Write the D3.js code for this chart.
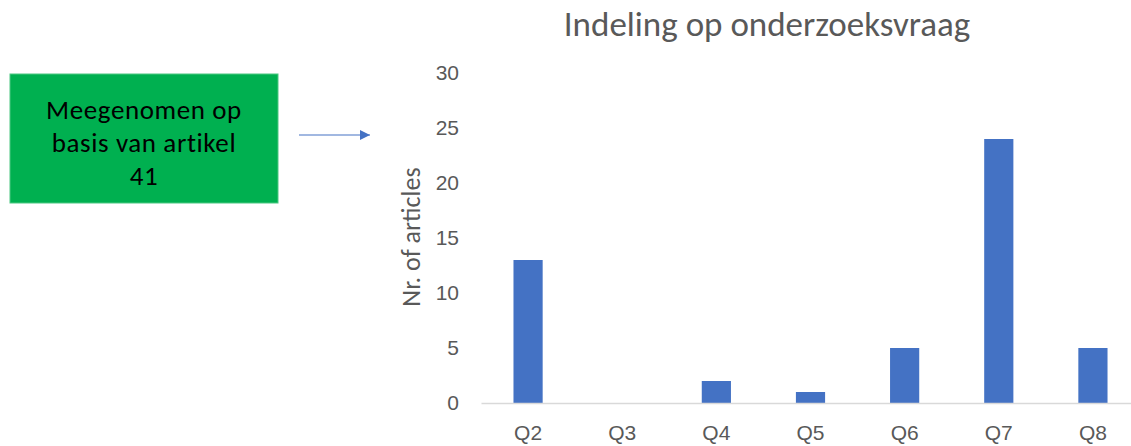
<!DOCTYPE html>
<html>
<head>
<meta charset="utf-8">
<script src="https://cdn.jsdelivr.net/npm/d3@7"></script>
<style>
  html, body { margin: 0; padding: 0; background: #fff; }
  svg { display: block; font-family: Carlito, "Liberation Sans Narrow", "Open Sans", sans-serif; }
</style>
</head>
<body>
<svg id="chart" width="1131" height="446"></svg>
<script>
// Article counts per research question
const categories = ["Q2", "Q3", "Q4", "Q5", "Q6", "Q7", "Q8"];
const articleCounts = [13, 0, 2, 1, 5, 24, 5];
const yTicks = [0, 5, 10, 15, 20, 25, 30];
const titleText = "Indeling op onderzoeksvraag";
const yLabelText = "Nr. of articles";
const noteLines = ["Meegenomen op", "basis van artikel", "41"];

const svg = d3.select("#chart");
const plot = { left: 481, right: 1140, top: 73, bottom: 403 };

const x = d3.scaleBand()
  .domain(categories)
  .range([plot.left, plot.right])
  .paddingInner(0.69)
  .paddingOuter(0.345);

const y = d3.scaleLinear()
  .domain([0, 30])
  .range([plot.bottom, plot.top]);

// Title
svg.append("text")
  .attr("x", 767).attr("y", 36)
  .attr("text-anchor", "middle")
  .attr("fill", "#595959")
  .attr("font-size", 35)
  .text(titleText);

// Y axis tick labels (no line)
const yAxis = d3.axisLeft(y).tickValues(yTicks).tickSize(0).tickPadding(0);
const yg = svg.append("g").attr("transform", `translate(459,0)`).call(yAxis);
yg.select(".domain").remove();
yg.selectAll("text")
  .attr("fill", "#595959")
  .attr("font-size", 21)
  .attr("font-family", "inherit");

// Y axis title
svg.append("text")
  .attr("transform", `translate(420,237) rotate(-90)`)
  .attr("text-anchor", "middle")
  .attr("fill", "#595959")
  .attr("font-size", 26)
  .text(yLabelText);

// Bars
svg.append("g").selectAll("rect")
  .data(categories.map((c, i) => ({ c, v: articleCounts[i] })))
  .join("rect")
  .attr("x", d => x(d.c))
  .attr("width", x.bandwidth())
  .attr("y", d => y(d.v))
  .attr("height", d => y(0) - y(d.v))
  .attr("fill", "#4472C4");

// X axis
const xAxis = d3.axisBottom(x).tickSize(0).tickPadding(22);
const xg = svg.append("g").attr("transform", `translate(0,${plot.bottom})`).call(xAxis);
xg.select(".domain").attr("stroke", "#D9D9D9").attr("stroke-width", 1.5);
xg.selectAll("text")
  .attr("fill", "#595959")
  .attr("font-size", 21)
  .attr("font-family", "inherit");

// Note box
svg.append("rect")
  .attr("x", 10).attr("y", 74)
  .attr("width", 268).attr("height", 129)
  .attr("fill", "#00B050")
  .attr("stroke", "#4CC882")
  .attr("stroke-width", 1);

svg.append("g").selectAll("text")
  .data(noteLines)
  .join("text")
  .attr("x", 144)
  .attr("y", (d, i) => 119 + i * 33)
  .attr("text-anchor", "middle")
  .attr("fill", "#000")
  .attr("font-size", 27)
  .attr("letter-spacing", 0.6)
  .text(d => d);

// Arrow from note to chart
const defs = svg.append("defs");
defs.append("marker")
  .attr("id", "arrowhead")
  .attr("viewBox", "0 0 10 10")
  .attr("refX", 10).attr("refY", 5)
  .attr("markerWidth", 10).attr("markerHeight", 10)
  .attr("markerUnits", "userSpaceOnUse")
  .attr("orient", "auto")
  .append("path")
  .attr("d", "M0,0 L10,5 L0,10 Z")
  .attr("fill", "#4472C4");

svg.append("line")
  .attr("x1", 299).attr("y1", 135)
  .attr("x2", 370).attr("y2", 135)
  .attr("stroke", "#4472C4")
  .attr("stroke-width", 1.2)
  .attr("marker-end", "url(#arrowhead)");
</script>
</body>
</html>
